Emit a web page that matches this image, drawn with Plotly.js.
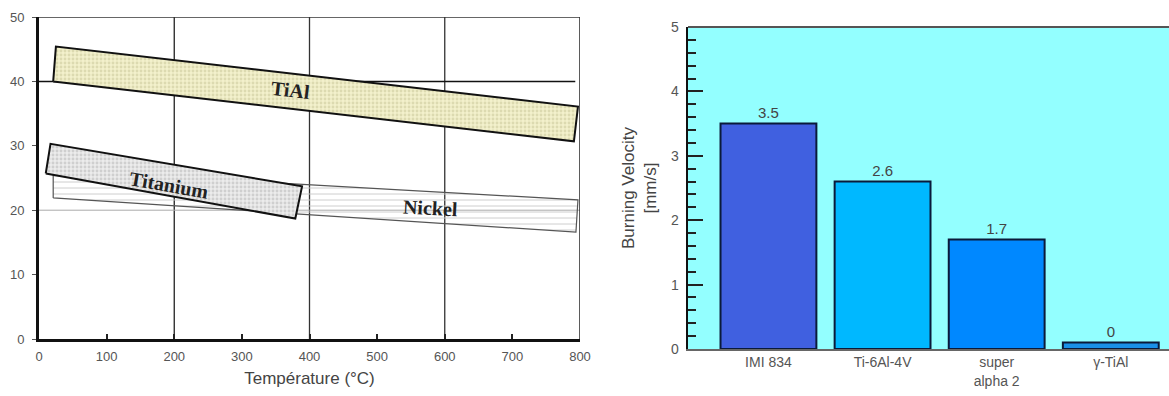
<!DOCTYPE html>
<html>
<head>
<meta charset="utf-8">
<script src="https://cdn.plot.ly/plotly-3.0.1.min.js"></script>
<style>html,body{margin:0;padding:0;background:#fff;}#chart{width:1169px;height:396px;}</style>
</head>
<body>
<div id="chart"></div>
<script>
// ---- Left panel: property bands vs temperature ----
const tempTicks = [0, 100, 200, 300, 400, 500, 600, 700, 800];
const propTicks = [0, 10, 20, 30, 40, 50];
// band outlines (temperature °C, value)
const tialTemp = [21, 25, 797, 791, 21];
const tialVal  = [40, 45.4, 36.1, 30.7, 40];
const titaniumTemp = [10, 17, 389, 379, 10];
const titaniumVal  = [25.7, 30.3, 23.7, 18.7, 25.7];
const nickelTemp = [21, 21, 797, 794, 21];
const nickelVal  = [21.9, 26.2, 21.6, 16.6, 21.9];
const bandNames = ["TiAl", "Titanium", "Nickel"];
const labelTemp = [372, 192, 579];
const labelVal  = [38.6, 23.9, 20.3];
const labelAngle = [6.5, 10, 3];

// ---- Right panel: burning velocity ----
const alloys = ["IMI 834", "Ti-6Al-4V", "super<br>alpha 2", "γ-TiAl"];
const velocity = [3.5, 2.6, 1.7, 0.1];
const velocityLabels = ["3.5", "2.6", "1.7", "0"];
const barColors = ["#4060e0", "#00b8ff", "#0088ff", "#1a90e8"];

const W = 1169, H = 396;
const px = v => v / W, py = v => 1 - v / H;
const SANS = 'Liberation Sans, Arial, sans-serif';

const traces = [
  {x: nickelTemp, y: nickelVal, type: 'scatter', mode: 'lines', fill: 'toself',
   fillcolor: 'rgba(255,255,255,0.35)',
   fillpattern: {shape: '-', fgcolor: '#c8c8c8', size: 6, solidity: 0.15},
   line: {color: '#555', width: 1.2}, xaxis: 'x', yaxis: 'y', hoverinfo: 'skip', showlegend: false},
  {x: titaniumTemp, y: titaniumVal, type: 'scatter', mode: 'lines', fill: 'toself',
   fillcolor: '#ececec',
   fillpattern: {shape: '.', fgcolor: '#cfcfcf', bgcolor: '#ececec', size: 4, solidity: 0.4},
   line: {color: '#111', width: 2}, xaxis: 'x', yaxis: 'y', hoverinfo: 'skip', showlegend: false},
  {x: tialTemp, y: tialVal, type: 'scatter', mode: 'lines', fill: 'toself',
   fillcolor: '#f3f1cc',
   fillpattern: {shape: '.', fgcolor: '#dcdab0', bgcolor: '#f3f1cc', size: 4, solidity: 0.4},
   line: {color: '#111', width: 2}, xaxis: 'x', yaxis: 'y', hoverinfo: 'skip', showlegend: false},
  {x: alloys, y: velocity, type: 'bar', xaxis: 'x2', yaxis: 'y2',
   marker: {color: barColors, line: {color: '#0a1a3a', width: 2}},
   width: 0.84, text: velocityLabels, texttemplate: '%{text}', textposition: 'outside',
   textfont: {family: SANS, size: 15, color: '#444'},
   cliponaxis: false, hoverinfo: 'skip', showlegend: false}
];

const annotations = bandNames.map((n, i) => ({
  x: labelTemp[i], y: labelVal[i], xref: 'x', yref: 'y', text: '<b>' + n + '</b>',
  showarrow: false, textangle: labelAngle[i],
  font: {family: 'Liberation Serif, DejaVu Serif, serif', size: 20, color: '#222'}
}));
annotations.push({
  x: px(640), y: py(188), xref: 'paper', yref: 'paper', showarrow: false,
  text: 'Burning Velocity<br>[mm/s]', textangle: -90,
  font: {family: SANS, size: 17, color: '#444'}
});

const shapes = [
  {type: 'rect', xref: 'x2 domain', yref: 'y2 domain', x0: 0, x1: 1, y0: 0, y1: 1,
   fillcolor: '#93ffff', line: {width: 0}, layer: 'below'},
  {type: 'line', xref: 'x2 domain', yref: 'y2 domain', x0: 0, x1: 1, y0: 1, y1: 1,
   line: {color: '#555', width: 2}, layer: 'above'},
  // left frame (top/right) and reference lines
  {type: 'line', xref: 'x', yref: 'y', x0: 0, x1: 800, y0: 50, y1: 50, line: {color: '#333', width: 1.6}},
  {type: 'line', xref: 'x', yref: 'y', x0: 800, x1: 800, y0: 0, y1: 50, line: {color: '#333', width: 1.6}},
  {type: 'line', xref: 'x', yref: 'y', x0: 200, x1: 200, y0: 0, y1: 50, line: {color: '#222', width: 1.3}, layer: 'below'},
  {type: 'line', xref: 'x', yref: 'y', x0: 400, x1: 400, y0: 0, y1: 50, line: {color: '#333', width: 1.3}, layer: 'below'},
  {type: 'line', xref: 'x', yref: 'y', x0: 600, x1: 600, y0: 0, y1: 50, line: {color: '#333', width: 1.3}, layer: 'below'},
  {type: 'line', xref: 'x', yref: 'y', x0: 0, x1: 793, y0: 40, y1: 40, line: {color: '#111', width: 1.5}, layer: 'below'},
  {type: 'line', xref: 'x', yref: 'y', x0: 0, x1: 800, y0: 20, y1: 20, line: {color: '#aaa', width: 1}, layer: 'below'}
];

const tickFont = {family: SANS, size: 13, color: '#555'};

const layout = {
  width: W, height: H, margin: {l: 0, r: 0, t: 0, b: 0},
  paper_bgcolor: '#fff', plot_bgcolor: 'rgba(0,0,0,0)', showlegend: false,
  xaxis: {domain: [px(39), px(580)], range: [0, 800], tickvals: tempTicks,
    ticks: 'inside', ticklen: 5, tickwidth: 2, tickcolor: '#222', showgrid: false, zeroline: false,
    showline: true, linewidth: 3, linecolor: '#111', tickfont: tickFont, ticklabelstandoff: 3,
    title: {text: 'Température (°C)', font: {family: SANS, size: 17, color: '#444'}, standoff: 10},
    anchor: 'y', fixedrange: true},
  yaxis: {domain: [py(339), py(17)], range: [0, 50], tickvals: propTicks,
    ticks: 'outside', ticklen: 4, tickcolor: '#555', showgrid: false, zeroline: false,
    showline: true, linewidth: 3, linecolor: '#111', tickfont: tickFont, ticklabelstandoff: 5,
    anchor: 'x', fixedrange: true},
  xaxis2: {domain: [px(688), 1], range: [-0.705, 3.51], type: 'category',
    ticks: '', showgrid: false, zeroline: false, showline: true, linewidth: 1.5, linecolor: '#666',
    tickfont: {family: SANS, size: 14, color: '#555'}, anchor: 'y2', fixedrange: true},
  yaxis2: {domain: [py(349), py(27)], range: [0, 5], dtick: 1,
    ticks: 'inside', ticklen: 15, tickwidth: 2, tickcolor: '#222',
    minor: {dtick: 0.2, ticks: 'inside', ticklen: 8, tickwidth: 2, tickcolor: '#222', showgrid: false},
    showgrid: false, zeroline: false, showline: true, linewidth: 2.5, linecolor: '#111',
    tickfont: {family: SANS, size: 14, color: '#555'}, ticklabelstandoff: 4,
    anchor: 'x2', fixedrange: true},
  shapes: shapes,
  annotations: annotations
};

Plotly.newPlot('chart', traces, layout, {displayModeBar: false, staticPlot: true});
</script>
</body>
</html>
